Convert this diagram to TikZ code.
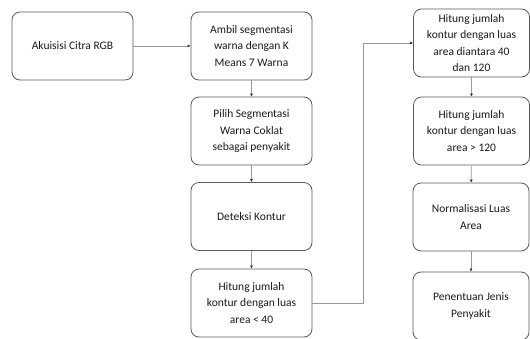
\documentclass[tikz,border=0pt]{standalone}
\usepackage{fontspec}
\setmainfont{Carlito}
\usetikzlibrary{arrows.meta}
\begin{document}
\begin{tikzpicture}[x=1pt,y=-1pt,
  box/.style={draw=black!65, line width=0.8pt, rounded corners=8pt, align=center,
    font=\fontsize{11.5}{16.5}\selectfont, text=black!90, inner sep=0pt},
  lbox/.style={box, minimum width=121pt, minimum height=68pt},
  rbox/.style={box, minimum width=116pt, minimum height=68pt},
  conn/.style={draw=black!40, line width=0.6pt, -{Latex[length=3pt,width=3pt,black!80]}}]
\useasboundingbox (0,0) rectangle (530,338);
\begin{scope}
\clip (0,0) rectangle (530,338);
\node[lbox] (b1) at (72.5,46) {Akuisisi Citra RGB};
\node[lbox] (b2) at (251.5,46) {Ambil segmentasi\\warna dengan K\\Means 7 Warna};
\node[lbox] (b3) at (251.5,131) {Pilih Segmentasi\\Warna Coklat\\sebagai penyakit};
\node[lbox] (b4) at (251.5,216.5) {Deteksi Kontur};
\node[lbox] (b5) at (251.5,303) {Hitung jumlah\\kontur dengan luas\\area < 40};
\node[rbox] (r1) at (471.5,43) {Hitung jumlah\\kontur dengan luas\\area diantara 40\\dan 120};
\node[rbox] (r2) at (471.5,131) {Hitung jumlah\\kontur dengan luas\\area > 120};
\node[rbox] (r3) at (471,217) {Normalisasi Luas\\Area};
\node[rbox] (r4) at (471,306) {Penentuan Jenis\\Penyakit};
\end{scope}
\coordinate (k) at (363,303);
\draw[conn] (b1) -- (b2);
\draw[conn] (b2) -- (b3);
\draw[conn] (b3) -- (b4);
\draw[conn] (b4) -- (b5);
\draw[conn] (b5.east) -- (k) |- (r1.west);
\draw[conn] (r1) -- (r2);
\draw[conn] (r2) -- (r3);
\draw[conn] (r3) -- (r4);
\end{tikzpicture}
\end{document}
